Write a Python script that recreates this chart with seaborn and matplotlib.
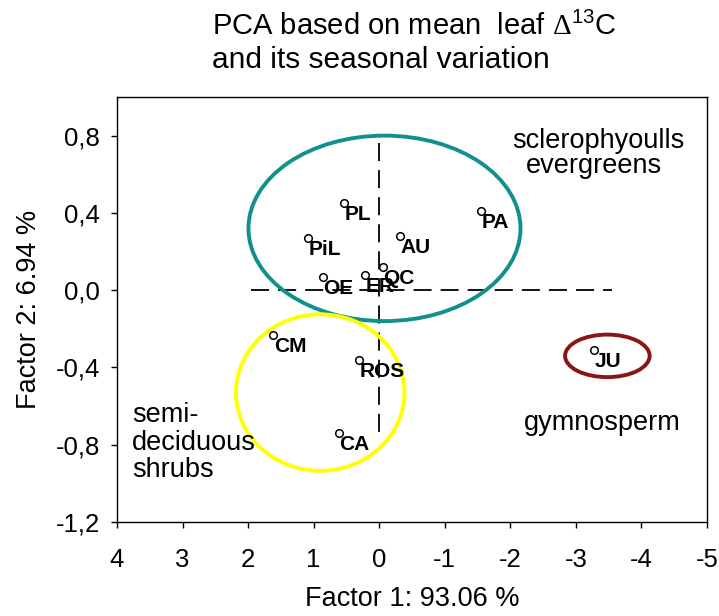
import matplotlib
matplotlib.use("Agg")
import matplotlib.pyplot as plt
from matplotlib.patches import Ellipse
import seaborn as sns
import pandas as pd

# ---- data ----
species = ["PL", "PiL", "AU", "PA", "OE", "ER", "QC", "CM", "ROS", "CA", "JU"]
factor1 = [0.54, 1.08, -0.32, -1.55, 0.86, 0.22, -0.05, 1.62, 0.31, 0.62, -3.28]
factor2 = [0.45, 0.27, 0.28, 0.41, 0.07, 0.08, 0.12, -0.23, -0.36, -0.74, -0.31]

yticks = [0.8, 0.4, 0.0, -0.4, -0.8, -1.2]
ytick_labels = ["0,8", "0,4", "0,0", "-0,4", "-0,8", "-1,2"]
xticks = [4, 3, 2, 1, 0, -1, -2, -3, -4, -5]
xtick_labels = ["4", "3", "2", "1", "0", "-1", "-2", "-3", "-4", "-5"]

# group ellipses: center x, center y, width, height, colour
groups = ["evergreens", "shrubs", "gymnosperm"]
ell_cx = [-0.08, 0.90, -3.48]
ell_cy = [0.32, -0.53, -0.34]
ell_w = [4.15, 2.57, 1.29]
ell_h = [0.96, 0.81, 0.22]
ell_col = ["#12908E", "#FFFF00", "#8B1414"]

df = pd.DataFrame({"species": species, "f1": factor1, "f2": factor2})

sns.set_style("white")
plt.rcParams["font.family"] = ["Liberation Sans", "DejaVu Sans"]
plt.rcParams["mathtext.fontset"] = "custom"
plt.rcParams["mathtext.rm"] = "Liberation Serif"
plt.rcParams["mathtext.sf"] = "Liberation Sans"
for k in ["text.color", "axes.labelcolor", "xtick.color", "ytick.color"]:
    plt.rcParams[k] = "black"

fig = plt.figure(figsize=(7.19, 6.16), dpi=100)
ax = fig.add_axes([117 / 719, 1 - 522 / 616, (707 - 117) / 719, (522 - 97) / 616])

# dashed axes lines
ax.plot([1.95, -3.55], [0, 0], color="black", lw=1.3, ls=(0, (10, 5)), zorder=1)
ax.plot([0, 0], [0.76, -0.76], color="black", lw=1.3, ls=(0, (10, 5)), zorder=1)

for cx, cy, w, h, c in zip(ell_cx, ell_cy, ell_w, ell_h, ell_col):
    ax.add_patch(Ellipse((cx, cy), w, h, fill=False, edgecolor=c, lw=2.8, zorder=2))

sns.scatterplot(data=df, x="f1", y="f2", ax=ax, marker="o", s=30,
                facecolor="white", edgecolor="black", linewidth=1.1, zorder=4)

for name, x, y in zip(species, factor1, factor2):
    ax.annotate(name, (x, y), xytext=(0.5, -1.5), textcoords="offset points",
                ha="left", va="top", fontsize=15, fontweight="bold", zorder=5)

ax.text(-2.03, 0.774, "sclerophyoulls", ha="left", va="center", fontsize=19.5)
ax.text(-2.23, 0.644, "evergreens", ha="left", va="center", fontsize=19.5)
ax.text(3.77, -0.79, "semi-\ndeciduous\nshrubs", ha="left", va="center",
        fontsize=19.5, linespacing=1.07)
ax.text(-2.2, -0.69, "gymnosperm", ha="left", va="center", fontsize=19.5)

ax.set_xlim(4, -5)
ax.set_ylim(-1.2, 1.0)
ax.set_xticks(xticks)
ax.set_xticklabels(xtick_labels)
ax.set_yticks(yticks)
ax.set_yticklabels(ytick_labels)
ax.tick_params(axis="x", direction="out", length=4, width=1, pad=15, labelsize=18.5)
ax.tick_params(axis="y", direction="out", length=4, width=1, pad=8, labelsize=18.5)
ax.tick_params(bottom=True, left=True)
for sp in ax.spines.values():
    sp.set_color("black")
    sp.set_linewidth(1.0)

ax.set_xlabel("Factor 1: 93.06 %", fontsize=19.5, labelpad=10)
ax.set_ylabel("Factor 2: 6.94 %", fontsize=19.5, labelpad=10)

fig.text(212 / 719, 1 - 35 / 616, r"PCA based on mean  leaf $\Delta^{\mathsf{13}}$C",
         fontsize=21, ha="left", va="baseline")
fig.text(212 / 719, 1 - 68 / 616, "and its seasonal variation", fontsize=21.5,
         ha="left", va="baseline")

fig.savefig("out.png", dpi=100)
